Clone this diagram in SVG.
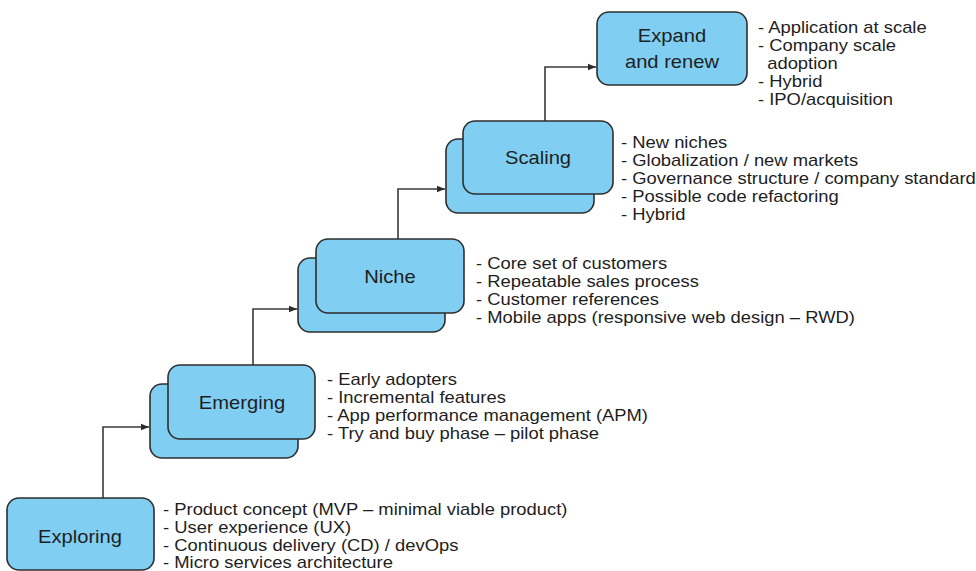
<svg xmlns="http://www.w3.org/2000/svg" width="976" height="571" viewBox="0 0 976 571">
  <defs>
    <marker id="arrow" viewBox="0 0 10 10" refX="10" refY="5" markerWidth="8" markerHeight="8" markerUnits="userSpaceOnUse" orient="auto">
      <path d="M0,1 L10,5 L0,9 Z" fill="#2b2b2b"/>
    </marker>
    <style>
      .box { fill: #80cff3; stroke: #2e2e2e; stroke-width: 1.6; }
      .label { font-family: "Liberation Sans", Arial, sans-serif; font-size: 18px; fill: #1e1e1e; text-anchor: middle; }
      .note { font-family: "Liberation Sans", Arial, sans-serif; font-size: 16px; fill: #1e1e1e; }
      .link { fill: none; stroke: #3a3a3a; stroke-width: 1.6; marker-end: url(#arrow); }
    </style>
  </defs>
  <rect width="976" height="571" fill="#ffffff"/>

  <!-- connectors between stages -->
  <g id="connectors">
    <path class="link" d="M103,498 V427 H149"/>
    <path class="link" d="M253,365 V309 H297"/>
    <path class="link" d="M398,239 V189 H445"/>
    <path class="link" d="M545,121 V67 H596"/>
  </g>

  <!-- stage 1 -->
  <g id="exploring">
    <rect class="box" x="7" y="498" width="147" height="72" rx="12"/>
    <text class="label" transform="translate(80 543) scale(1.12 1)">Exploring</text>
    <g transform="translate(163 0) scale(1.15 1)">
      <text class="note" x="0" y="515">- Product concept (MVP – minimal viable product)</text>
      <text class="note" x="0" y="533">- User experience (UX)</text>
      <text class="note" x="0" y="551">- Continuous delivery (CD) / devOps</text>
      <text class="note" x="0" y="568">- Micro services architecture</text>
    </g>
  </g>

  <!-- stage 2 -->
  <g id="emerging">
    <rect class="box" x="150" y="384" width="148" height="74" rx="12"/>
    <rect class="box" x="168" y="365" width="147" height="74" rx="12"/>
    <text class="label" transform="translate(242 409) scale(1.12 1)">Emerging</text>
    <g transform="translate(327 0) scale(1.15 1)">
      <text class="note" x="0" y="385">- Early adopters</text>
      <text class="note" x="0" y="403">- Incremental features</text>
      <text class="note" x="0" y="421">- App performance management (APM)</text>
      <text class="note" x="0" y="439">- Try and buy phase – pilot phase</text>
    </g>
  </g>

  <!-- stage 3 -->
  <g id="niche">
    <rect class="box" x="298" y="258" width="147" height="74" rx="12"/>
    <rect class="box" x="316" y="239" width="148" height="74" rx="12"/>
    <text class="label" transform="translate(390 283) scale(1.12 1)">Niche</text>
    <g transform="translate(476 0) scale(1.15 1)">
      <text class="note" x="0" y="269">- Core set of customers</text>
      <text class="note" x="0" y="287">- Repeatable sales process</text>
      <text class="note" x="0" y="305">- Customer references</text>
      <text class="note" x="0" y="323">- Mobile apps (responsive web design – RWD)</text>
    </g>
  </g>

  <!-- stage 4 -->
  <g id="scaling">
    <rect class="box" x="446" y="139" width="148" height="74" rx="12"/>
    <rect class="box" x="463" y="121" width="150" height="73" rx="12"/>
    <text class="label" transform="translate(538 164) scale(1.12 1)">Scaling</text>
    <g transform="translate(621 0) scale(1.15 1)">
      <text class="note" x="0" y="148">- New niches</text>
      <text class="note" x="0" y="166">- Globalization / new markets</text>
      <text class="note" x="0" y="184">- Governance structure / company standard</text>
      <text class="note" x="0" y="202">- Possible code refactoring</text>
      <text class="note" x="0" y="220">- Hybrid</text>
    </g>
  </g>

  <!-- stage 5 -->
  <g id="expand-renew">
    <rect class="box" x="597" y="12" width="150" height="73" rx="12"/>
    <text class="label" transform="translate(672 42) scale(1.12 1)">Expand</text>
    <text class="label" transform="translate(672 68) scale(1.12 1)">and renew</text>
    <g transform="translate(758 0) scale(1.15 1)">
      <text class="note" x="0" y="33">- Application at scale</text>
      <text class="note" x="0" y="51">- Company scale</text>
      <text class="note" x="8" y="69">adoption</text>
      <text class="note" x="0" y="87">- Hybrid</text>
      <text class="note" x="0" y="105">- IPO/acquisition</text>
    </g>
  </g>
</svg>
